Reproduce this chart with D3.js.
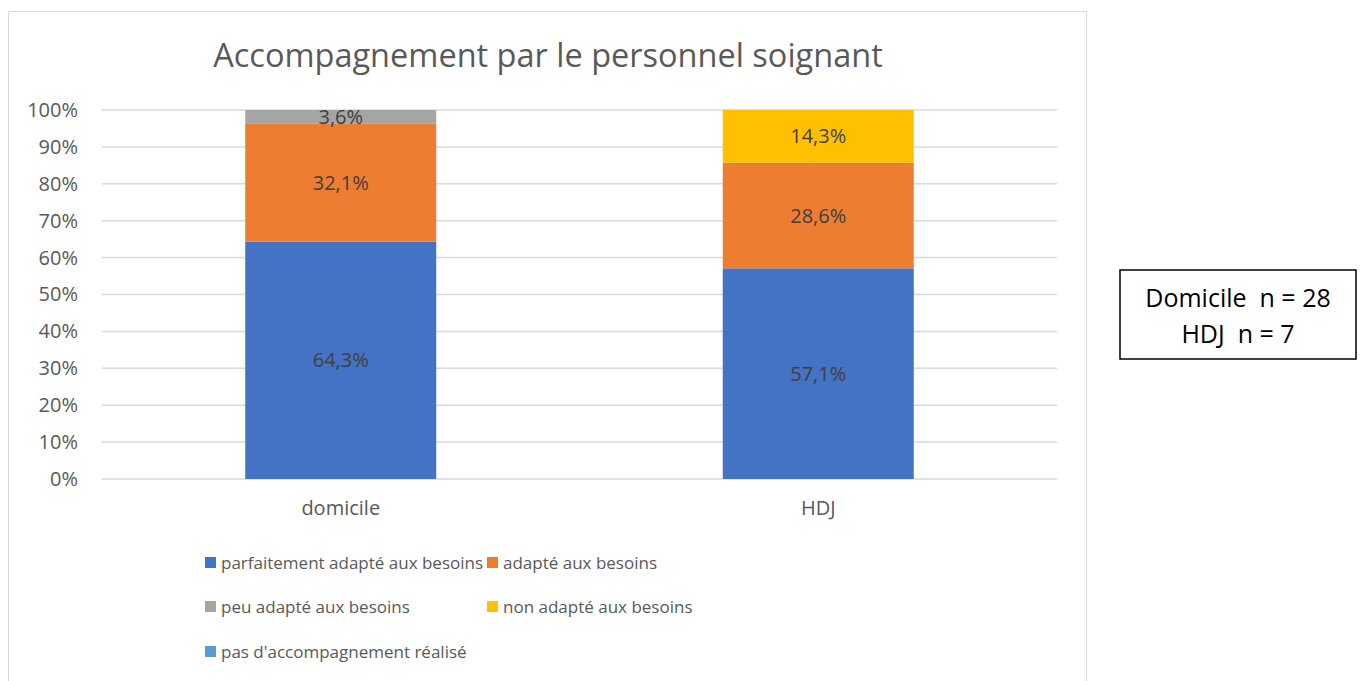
<!DOCTYPE html>
<html>
<head>
<meta charset="utf-8">
<script src="https://cdn.jsdelivr.net/npm/d3@7"></script>
<style>
	body { margin: 0; background: #fff; }
	svg { display: block; font-family: "Open Sans", sans-serif; }
</style>
</head>
<body>
<svg id="chart" width="1364" height="681"></svg>
<script>
const categories = ["domicile", "HDJ"]
const seriesNames = ["parfaitement adapté aux besoins", "adapté aux besoins", "peu adapté aux besoins", "non adapté aux besoins", "pas d'accompagnement réalisé"]
const seriesColors = ["#4472C4", "#ED7D31", "#A5A5A5", "#FFC000", "#5B9BD5"]
// values in %, one array per category, same order as seriesNames
const domicileValues = [64.3, 32.1, 3.6, 0, 0]
const hdjValues = [57.1, 28.6, 0, 14.3, 0]
const yTicks = [0, 10, 20, 30, 40, 50, 60, 70, 80, 90, 100]
const title = "Accompagnement par le personnel soignant"
const noteLines = ["Domicile  n = 28", "HDJ  n = 7"]

const valuesByCategory = { "domicile": domicileValues, "HDJ": hdjValues }

const svg = d3.select("#chart")

// outer chart frame
svg.append("rect")
	.attr("x", 8.5).attr("y", 11.5)
	.attr("width", 1078).attr("height", 700)
	.attr("fill", "#fff")
	.attr("stroke", "#d9d9d9")

svg.append("text")
	.attr("x", 548).attr("y", 67)
	.attr("text-anchor", "middle")
	.attr("font-size", 32.5)
	.attr("fill", "#595959")
	.text(title)

const plot = { left: 102, right: 1057, top: 110, bottom: 479 }

const x = d3.scaleBand()
	.domain(categories)
	.range([plot.left, plot.right])
	.paddingInner(0.6)
	.paddingOuter(0.3)

const y = d3.scaleLinear()
	.domain([0, 100])
	.range([plot.bottom, plot.top])

// gridlines
svg.append("g")
	.selectAll("line")
	.data(yTicks)
	.join("line")
	.attr("x1", plot.left).attr("x2", plot.right)
	.attr("y1", d => y(d)).attr("y2", d => y(d))
	.attr("stroke", "#d9d9d9")
	.attr("stroke-width", 1.5)

const yAxis = svg.append("g")
	.attr("transform", `translate(${plot.left - 21},0)`)
	.call(d3.axisLeft(y).tickValues(yTicks).tickSize(0).tickFormat(d => d + "%"))
yAxis.select(".domain").remove()
yAxis.selectAll("text")
	.attr("font-family", "Open Sans, sans-serif")
	.attr("font-size", 20)
	.attr("fill", "#595959")

const xAxis = svg.append("g")
	.attr("transform", `translate(0,${plot.bottom + 19})`)
	.call(d3.axisBottom(x).tickSize(0))
xAxis.select(".domain").remove()
xAxis.selectAll("text")
	.attr("font-family", "Open Sans, sans-serif")
	.attr("font-size", 20)
	.attr("fill", "#595959")

// stacked data
const rows = categories.map(c => {
	const row = { category: c }
	seriesNames.forEach((s, i) => row[s] = valuesByCategory[c][i])
	return row
})
const stacked = d3.stack().keys(seriesNames)(rows)

const layers = svg.append("g")
	.selectAll("g")
	.data(stacked)
	.join("g")
	.attr("fill", (d, i) => seriesColors[i])

layers.selectAll("rect")
	.data(d => d)
	.join("rect")
	.attr("x", d => x(d.data.category))
	.attr("width", x.bandwidth())
	.attr("y", d => y(Math.min(d[1], 100)))
	.attr("height", d => y(d[0]) - y(Math.min(d[1], 100)))

// data labels
layers.selectAll("text")
	.data(d => d.filter(p => p[1] - p[0] > 0))
	.join("text")
	.attr("x", d => x(d.data.category) + x.bandwidth() / 2)
	.attr("y", d => y((d[0] + Math.min(d[1], 100)) / 2))
	.attr("dy", "0.35em")
	.attr("text-anchor", "middle")
	.attr("font-size", 20)
	.attr("fill", "#404040")
	.text(d => d3.format(".1f")(d[1] - d[0]).replace(".", ",") + "%")

// legend
const legendPos = [[205, 563], [487, 563], [205, 607], [487, 607], [205, 652]]
const legend = svg.append("g")
	.selectAll("g")
	.data(seriesNames)
	.join("g")
	.attr("transform", (d, i) => `translate(${legendPos[i][0]},${legendPos[i][1]})`)
legend.append("rect")
	.attr("x", 0).attr("y", -6)
	.attr("width", 11).attr("height", 11)
	.attr("fill", (d, i) => seriesColors[i])
legend.append("text")
	.attr("x", 16)
	.attr("dy", "0.35em")
	.attr("font-size", 17)
	.attr("fill", "#595959")
	.text(d => d)

// note box
svg.append("rect")
	.attr("x", 1120).attr("y", 270)
	.attr("width", 236).attr("height", 89)
	.attr("fill", "#fff")
	.attr("stroke", "#000")
	.attr("stroke-width", 1.5)
svg.append("g")
	.selectAll("text")
	.data(noteLines)
	.join("text")
	.attr("x", 1238)
	.attr("y", (d, i) => 298 + i * 36)
	.attr("dy", "0.35em")
	.attr("text-anchor", "middle")
	.attr("font-size", 25)
	.attr("fill", "#000")
	.style("white-space", "pre")
	.text(d => d)
</script>
</body>
</html>
